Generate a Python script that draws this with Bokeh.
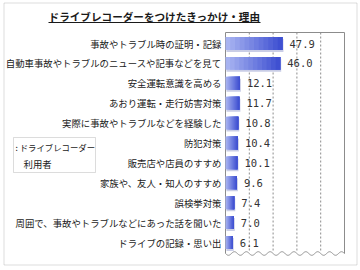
import numpy as np
from bokeh.plotting import figure
from bokeh.models import Range1d, Label, BoxAnnotation, ColumnDataSource
from bokeh.core.properties import value
from bokeh.embed import file_html
from bokeh.resources import INLINE

title = "ドライブレコーダーをつけたきっかけ・理由"
categories = [
    "事故やトラブル時の証明・記録",
    "自動車事故やトラブルのニュースや記事などを見て",
    "安全運転意識を高める",
    "あおり運転・走行妨害対策",
    "実際に事故やトラブルなどを経験した",
    "防犯対策",
    "販売店や店員のすすめ",
    "家族や、友人・知人のすすめ",
    "誤検挙対策",
    "周囲で、事故やトラブルなどにあった話を聞いた",
    "ドライブの記録・思い出",
]
values = [47.9, 46.0, 12.1, 11.7, 10.8, 10.4, 10.1, 9.6, 7.4, 7.0, 6.1]
legend_lines = [": ドライブレコーダー", "利用者"]
grid_ticks = [20, 40, 60, 80]
x_max = 100

JP = "Noto Sans CJK JP"
W, H = 360, 270
# plot-area geometry in canvas pixels
PX0, PX1 = 225, 344          # x = 0 and x = x_max
ROW0, ROWSTEP = 43, 19.9     # centre of first row, row spacing
PTOP, PBOT = 32, 253         # plot-area top / bottom (wave)


def dx(cx):
    return (cx - PX0) * x_max / (PX1 - PX0)


def dy(cy):
    return (cy - ROW0) / ROWSTEP


p = figure(width=W, height=H, output_backend="svg", toolbar_location=None,
           x_range=Range1d(dx(0), dx(W)), y_range=Range1d(dy(H), dy(0)),
           x_axis_location=None, y_axis_location=None,
           min_border=0, min_border_left=0, min_border_right=0,
           min_border_top=0, min_border_bottom=0)
p.background_fill_color = "white"
p.border_fill_color = "white"
p.outline_line_color = None
p.xgrid.visible = False
p.ygrid.visible = False

GRID = "#8c8c8c"
# dashed gridlines
p.segment(x0=grid_ticks, x1=grid_ticks, y0=dy(PTOP), y1=dy(PBOT - 1),
          line_color=GRID, line_dash="2 2", line_width=1)
# plot-area border: left axis, right, top
p.segment(x0=[0, x_max, 0], x1=[0, x_max, x_max],
          y0=[dy(PTOP), dy(PTOP), dy(PTOP)], y1=[dy(PBOT), dy(PBOT), dy(PTOP)],
          line_color=GRID, line_width=1)
# wavy bottom edge (broken-axis decoration)
wx = np.linspace(0, x_max, 300)
wy = dy(PBOT) + 0.09 * np.sin(wx / x_max * 2 * np.pi * 10)
p.line(wx, wy, line_color=GRID, line_width=1)

idx = list(range(len(categories)))
BH = 0.65

# shadow
p.hbar(y=[i + 0.1 for i in idx], left=0.8, right=[v + 0.8 for v in values], height=BH,
       fill_color="#c9cde6", line_color=None)

# gradient bars: overlapping slices, each running to the bar end
N = 12
light = np.array([0xac, 0xb7, 0xf2])
dark = np.array([0x3a, 0x4c, 0xd0])
ys, lefts, rights, colors = [], [], [], []
for i, v in zip(idx, values):
    for k in range(N):
        f = (k + 0.5) / N
        col = light * (1 - f) + dark * f
        ys.append(i)
        lefts.append(v * k / N)
        rights.append(v)
        colors.append("#%02x%02x%02x" % tuple(int(round(c)) for c in col))
src = ColumnDataSource(dict(y=ys, left=lefts, right=rights, color=colors))
p.hbar(y="y", left="left", right="right", height=BH, fill_color="color",
       line_color=None, source=src)

# category labels
p.text(x=[0] * len(categories), y=idx, text=categories, x_offset=-4,
       text_align="right", text_baseline="middle",
       text_font=value(JP), text_font_size="9.4px", text_color="#1a1a1a")

# value labels
p.text(x=values, y=idx, text=[f"{v:.1f}" for v in values],
       x_offset=7, text_baseline="middle", text_align="left",
       text_font=value("DejaVu Sans Mono"), text_font_size="10.5px", text_color="#333333")

# title with underline
p.add_layout(Label(x=dx(154), y=dy(15.5), text=title,
                   text_font=JP, text_font_style="bold", text_font_size="10.6px",
                   text_align="center", text_baseline="middle", text_color="#1a1a1a"))
p.add_layout(BoxAnnotation(left=dx(48), right=dx(260), bottom=dy(22.5), top=dy(21.5),
                           fill_color="#1a1a1a", fill_alpha=1, line_color=None))

# legend box
p.add_layout(BoxAnnotation(left=dx(13), right=dx(95), bottom=dy(172), top=dy(137),
                           fill_color="white", fill_alpha=1, line_color=GRID))
p.add_layout(Label(x=dx(15), y=dy(146), text=legend_lines[0],
                   text_font=JP, text_font_size="8.4px", text_baseline="middle",
                   text_color="#1a1a1a"))
p.add_layout(Label(x=dx(23), y=dy(163), text=legend_lines[1],
                   text_font=JP, text_font_size="9.4px", text_baseline="middle",
                   text_color="#1a1a1a"))

# outer frame
p.add_layout(BoxAnnotation(left=dx(3.5), right=dx(356.5), bottom=dy(264.5), top=dy(2.5),
                           fill_alpha=0, line_color=GRID, line_width=1))

open("out.html", "w").write(file_html(p, INLINE))
